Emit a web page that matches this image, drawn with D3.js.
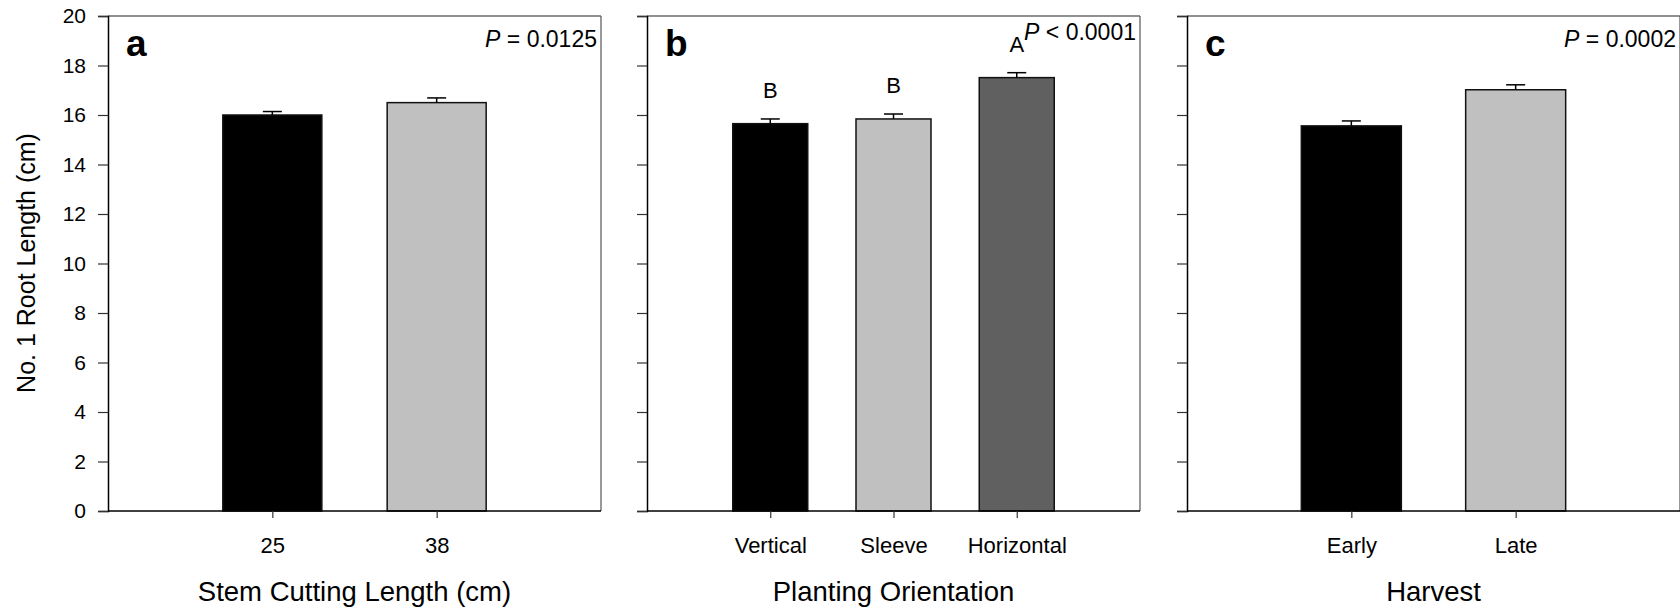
<!DOCTYPE html>
<html>
<head>
<meta charset="utf-8">
<script src="https://cdn.jsdelivr.net/npm/d3@7"></script>
<style>
  html, body { margin: 0; padding: 0; background: #fff; }
  svg { display: block; font-family: "Liberation Sans", Arial, sans-serif; }
</style>
</head>
<body>
<svg id="chart" width="1680" height="608"></svg>
<script>
// Panel a: stem cutting length
const stemCategories = ["25", "38"];
const stemMeans = [16.0, 16.5];
const stemSE = [0.14, 0.19];

// Panel b: planting orientation
const orientCategories = ["Vertical", "Sleeve", "Horizontal"];
const orientMeans = [15.65, 15.84, 17.51];
const orientSE = [0.19, 0.2, 0.2];
const orientLetters = ["B", "B", "A"];

// Panel c: harvest timing
const harvestCategories = ["Early", "Late"];
const harvestMeans = [15.56, 17.02];
const harvestSE = [0.2, 0.2];

const panelLetters = ["a", "b", "c"];
const pLabels = ["= 0.0125", "< 0.0001", "= 0.0002"];
const xTitles = ["Stem Cutting Length (cm)", "Planting Orientation", "Harvest"];
const yTicks = [0, 2, 4, 6, 8, 10, 12, 14, 16, 18, 20];
const yTitle = "No. 1 Root Length (cm)";

const BLACK = "#000000", LIGHT = "#c0c0c0", DARK = "#606060";

const panels = [
  { cats: stemCategories, means: stemMeans, se: stemSE, letters: null,
    fills: [BLACK, LIGHT], left: 108, barW: 99, showYLabels: true, pY: 47 },
  { cats: orientCategories, means: orientMeans, se: orientSE, letters: orientLetters,
    fills: [BLACK, LIGHT, DARK], left: 647, barW: 75, showYLabels: false, pY: 40 },
  { cats: harvestCategories, means: harvestMeans, se: harvestSE, letters: null,
    fills: [BLACK, LIGHT], left: 1187, barW: 100, showYLabels: false, pY: 47 }
];

const plotW = 493, plotTop = 16, plotBottom = 511;
const svg = d3.select("#chart");

const y = d3.scaleLinear().domain([0, 20]).range([plotBottom, plotTop]);

panels.forEach((p, i) => {
  const g = svg.append("g");
  const x = d3.scalePoint().domain(p.cats).range([p.left, p.left + plotW]).padding(1);

  // frame: top and right edges
  g.append("line").attr("x1", p.left).attr("x2", p.left + plotW)
    .attr("y1", plotTop).attr("y2", plotTop).attr("stroke", "#222").attr("stroke-width", 1.2);
  g.append("line").attr("x1", p.left + plotW).attr("x2", p.left + plotW)
    .attr("y1", plotTop).attr("y2", plotBottom).attr("stroke", "#555").attr("stroke-width", 1.2);

  // bars
  g.selectAll("rect.bar").data(p.cats).join("rect")
    .attr("class", "bar")
    .attr("x", d => x(d) - p.barW / 2)
    .attr("width", p.barW)
    .attr("y", (d, j) => y(p.means[j]))
    .attr("height", (d, j) => y(0) - y(p.means[j]))
    .attr("fill", (d, j) => p.fills[j])
    .attr("stroke", "#111").attr("stroke-width", 1.5);

  // error bars (upper only) and significance letters
  p.cats.forEach((c, j) => {
    const cx = x(c), y0 = y(p.means[j]), y1 = y(p.means[j] + p.se[j]);
    g.append("line").attr("x1", cx).attr("x2", cx).attr("y1", y0).attr("y2", y1)
      .attr("stroke", "#000").attr("stroke-width", 1.5);
    g.append("line").attr("x1", cx - 9.5).attr("x2", cx + 9.5).attr("y1", y1).attr("y2", y1)
      .attr("stroke", "#000").attr("stroke-width", 1.5);
    if (p.letters) {
      g.append("text").attr("x", cx).attr("y", y1 - 21)
        .attr("text-anchor", "middle").attr("font-size", 22).text(p.letters[j]);
    }
  });

  // y axis
  const yAxis = d3.axisLeft(y).tickValues(yTicks).tickSize(10).tickPadding(12)
    .tickFormat(p.showYLabels ? d3.format("d") : () => "");
  const ya = g.append("g").attr("transform", `translate(${p.left},0)`).call(yAxis);
  ya.select(".domain").attr("stroke", "#000").attr("stroke-width", 1.5);
  ya.selectAll(".tick line").attr("stroke", "#333").attr("stroke-width", 1.2);
  ya.selectAll(".tick text").attr("font-size", 21).attr("fill", "#000")
    .attr("font-family", "Liberation Sans, Arial, sans-serif");

  // x axis
  const xAxis = d3.axisBottom(x).tickSize(7).tickPadding(19);
  const xa = g.append("g").attr("transform", `translate(0,${plotBottom})`).call(xAxis);
  xa.select(".domain").attr("d", `M${p.left},0H${p.left + plotW}`)
    .attr("stroke", "#000").attr("stroke-width", 1.5);
  xa.selectAll(".tick line").attr("stroke", "#333").attr("stroke-width", 1.2);
  xa.selectAll(".tick text").attr("font-size", 22).attr("fill", "#000")
    .attr("font-family", "Liberation Sans, Arial, sans-serif");

  // x axis title
  g.append("text").attr("x", p.left + plotW / 2).attr("y", 601)
    .attr("text-anchor", "middle").attr("font-size", 27.5).text(xTitles[i]);

  // panel letter
  g.append("text").attr("x", p.left + 18).attr("y", 56)
    .attr("font-size", 37).attr("font-weight", "bold").text(panelLetters[i]);

  // P value
  const pt = g.append("text").attr("x", p.left + plotW - 4).attr("y", p.pY)
    .attr("text-anchor", "end").attr("font-size", 23);
  pt.append("tspan").attr("font-style", "italic").text("P");
  pt.append("tspan").text(" " + pLabels[i]);
});

// shared y axis title
svg.append("text")
  .attr("transform", "translate(35,263) rotate(-90)")
  .attr("text-anchor", "middle").attr("font-size", 25).text(yTitle);
</script>
</body>
</html>
